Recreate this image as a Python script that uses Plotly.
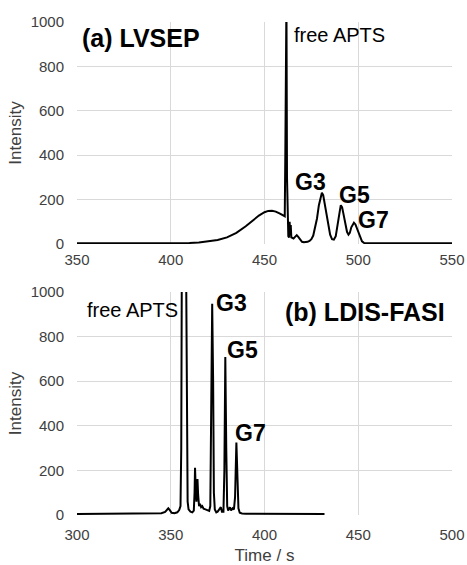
import plotly.graph_objects as go
from plotly.subplots import make_subplots

# (a) LVSEP electropherogram
time_a = [350, 360, 370, 380, 390, 400, 405, 410, 415, 420, 425, 430, 435, 440, 444, 447, 450, 452, 454, 456, 458, 460,
          460.8, 461.1, 461.3, 461.7, 462.0, 462.3, 462.7, 463.1, 463.4, 463.7, 464.0, 464.3, 464.8, 465.5, 466.3,
          467.2, 468, 469, 470, 471, 472, 473, 474, 475, 476, 477, 478, 479, 480, 480.6, 481.3, 482, 483, 484, 485,
          486, 487, 488, 489, 490, 490.7, 491.4, 492, 493, 494, 494.8, 495.5, 496.3, 497, 497.7, 498.5, 499.3, 500,
          501, 502, 503, 504, 520, 550]
int_a = [3, 3, 3, 3, 3, 3, 4, 5, 7, 11, 18, 30, 50, 80, 108, 128, 143, 149, 150, 146, 138, 128,
         125, 400, 1100, 1100, 300, 60, 35, 30, 100, 40, 85, 30, 28, 25, 32,
         40, 32, 18, 10, 8, 8, 10, 14, 22, 38, 70, 115, 175, 220, 231, 220, 185, 130, 80, 42,
         22, 20, 35, 80, 140, 175, 165, 140, 95, 55, 42, 50, 75, 90, 96, 88, 70, 50,
         28, 12, 5, 3, 3, 3]

# (b) LDIS-FASI electropherogram
time_b = [300, 320, 340, 345, 347, 348, 348.7, 349.5, 350.5, 352, 353.5, 354.5, 355.2, 355.6, 355.9, 358.2, 358.6,
          359, 359.5, 360.5, 361.5, 362.3, 362.7, 362.95, 363.3, 363.7, 364.0, 364.25, 364.6, 365.1, 365.6, 366.2,
          366.8, 367.5, 368.5, 369.5, 370.5, 371.1, 371.5, 372.1, 372.6, 373.0, 373.5, 374.3, 375, 376, 376.7, 377.3,
          378.1, 378.6, 379.1, 379.6, 380.1, 380.6, 381, 381.6, 382.2, 383, 383.7, 384.3, 385, 385.6, 386.1, 386.8,
          388, 390, 400, 420, 432]
int_b = [5, 5, 6, 8, 14, 25, 30, 22, 10, 8, 12, 22, 40, 300, 1100, 1100, 300,
         60, 25, 15, 12, 20, 100, 212, 120, 60, 130, 161, 90, 40, 50, 35,
         40, 28, 25, 20, 18, 40, 600, 947, 600, 100, 25, 12, 15, 30, 35, 15,
         15, 200, 708, 300, 40, 20, 30, 35, 20, 30, 25, 80, 325, 150, 30, 10,
         7, 6, 5, 5, 5]

x_ticks_a = [350, 400, 450, 500, 550]
x_ticks_b = [300, 350, 400, 450, 500]
y_ticks = [0, 200, 400, 600, 800, 1000]

FONT = "Liberation Sans, Arial, sans-serif"
GREY = "#404040"
GRID = "#d9d9d9"

fig = make_subplots(rows=2, cols=1, vertical_spacing=0.0)
fig.add_trace(go.Scatter(x=time_a, y=int_a, mode="lines", line=dict(color="black", width=2),
                         showlegend=False, hoverinfo="skip"), row=1, col=1)
fig.add_trace(go.Scatter(x=time_b, y=int_b, mode="lines", line=dict(color="black", width=2),
                         showlegend=False, hoverinfo="skip"), row=2, col=1)

axis_common = dict(showgrid=True, gridcolor=GRID, gridwidth=1, zeroline=False, showline=False,
                   tickfont=dict(family=FONT, size=15, color=GREY), ticks="", automargin=False)

fig.update_layout(
    width=467, height=565,
    margin=dict(l=77, r=15, t=22, b=50),
    paper_bgcolor="white", plot_bgcolor="white",
    font=dict(family=FONT, color=GREY),
    xaxis=dict(domain=[0, 1], range=[350, 550], tickvals=x_ticks_a, ticklabelstandoff=5, anchor="y",
               **axis_common),
    yaxis=dict(domain=[0.5497, 1.0], range=[0, 1000], tickvals=y_ticks, ticklabelstandoff=12, anchor="x",
               title=dict(text="Intensity", font=dict(family=FONT, size=17, color=GREY), standoff=4),
               **axis_common),
    xaxis2=dict(domain=[0, 1], range=[300, 500], tickvals=x_ticks_b, ticklabelstandoff=9, anchor="y2",
                title=dict(text="Time / s", font=dict(family=FONT, size=17, color=GREY), standoff=10),
                **axis_common),
    yaxis2=dict(domain=[0.0, 0.4523], range=[0, 1000], tickvals=y_ticks, ticklabelstandoff=12, anchor="x2",
                title=dict(text="Intensity", font=dict(family=FONT, size=17, color=GREY), standoff=4),
                **axis_common),
)

def ann(text, x, y, xref, yref, size, bold, xanchor="center"):
    fig.add_annotation(text=f"<b>{text}</b>" if bold else text, x=x, y=y, xref=xref, yref=yref,
                       showarrow=False, xanchor=xanchor, yanchor="middle",
                       font=dict(family=FONT, size=size, color="black"))

ann("(a) LVSEP", 351.6, 928, "x", "y", 25, True, xanchor="left")
ann("free APTS", 464.7, 941, "x", "y", 20, False, xanchor="left")
ann("G3", 474.6, 279, "x", "y", 23, True)
ann("G5", 498.1, 221, "x", "y", 23, True)
ann("G7", 508.0, 108, "x", "y", 23, True)

ann("free APTS", 329.6, 920, "x2", "y2", 20, False)
ann("G3", 382.5, 952, "x2", "y2", 23, True)
ann("G5", 388.5, 741, "x2", "y2", 23, True)
ann("G7", 392.5, 368, "x2", "y2", 23, True)
ann("(b) LDIS-FASI", 453.4, 912, "x2", "y2", 25, True)

fig.write_html("out.html", config={"displayModeBar": False, "staticPlot": True},
               post_script="document.body.style.margin='0';document.body.style.overflow='hidden';")
